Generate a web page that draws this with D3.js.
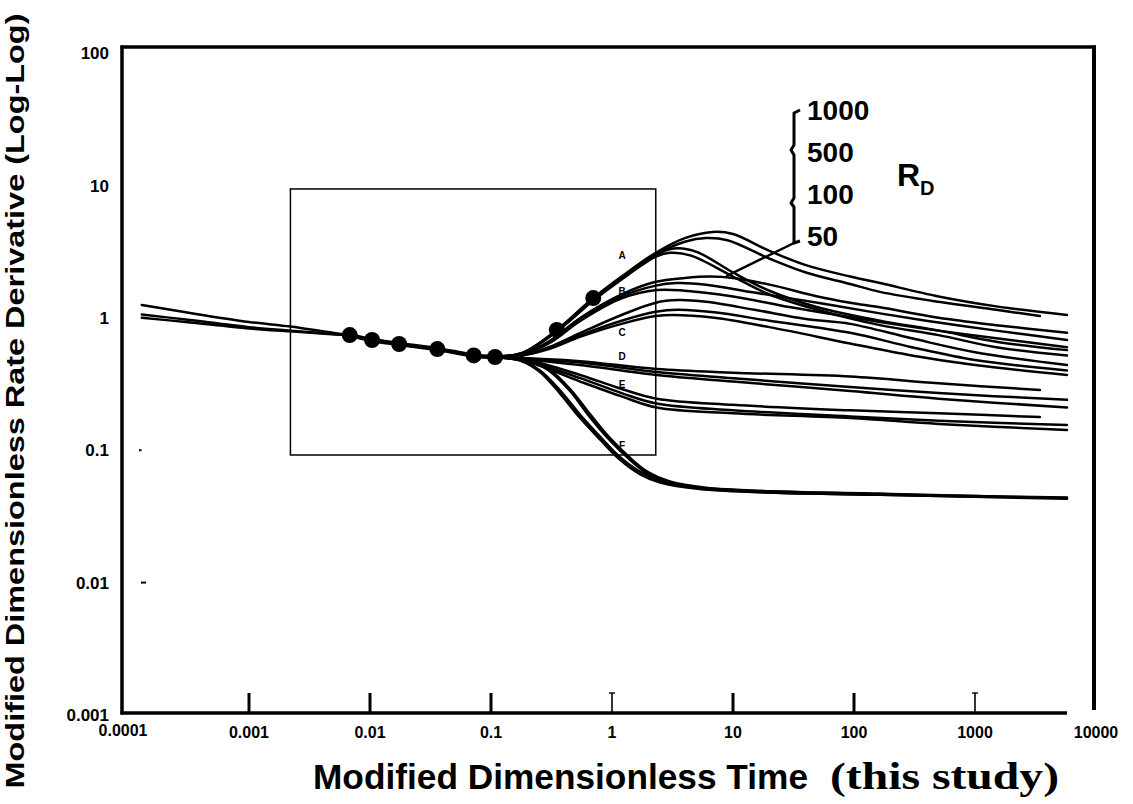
<!DOCTYPE html>
<html>
<head>
<meta charset="utf-8">
<script src="https://cdn.jsdelivr.net/npm/d3@7"></script>
<style>
  body { margin: 0; background: #fff; }
  svg text { font-family: "Liberation Sans", Arial, sans-serif; font-weight: bold; fill: #000; }
</style>
</head>
<body>
<div id="chart"></div>
<script>
const WIDTH = 1133, HEIGHT = 804;
const INK = "#000";

// axis ticks
const xTicks = [0.0001, 0.001, 0.01, 0.1, 1, 10, 100, 1000, 10000];
const xTickLabels = ["0.0001", "0.001", "0.01", "0.1", "1", "10", "100", "1000", "10000"];
const yTicks = [100, 10, 1, 0.1, 0.01, 0.001];
const yTickLabels = ["100", "10", "1", "0.1", "0.01", "0.001"];

// early stem: three traces that merge into the dotted core
const stemLines = [
    [[0.00013, 1.25], [0.0003, 1.1], [0.001, 0.93], [0.0022, 0.86], [0.0045, 0.78], [0.0068, 0.74]],
    [[0.00013, 1.06], [0.0003, 0.97], [0.001, 0.85], [0.0022, 0.8], [0.0045, 0.76], [0.0068, 0.74]],
    [[0.00013, 1.0], [0.0003, 0.93], [0.001, 0.83], [0.0022, 0.79], [0.0045, 0.755], [0.0068, 0.74]]
];
const stemCore = [[0.0068, 0.74], [0.0104, 0.68], [0.0174, 0.634], [0.036, 0.58], [0.072, 0.52], [0.108, 0.506], [0.13, 0.505]];

// dots (matching points)
const dotT = [0.0068, 0.0104, 0.0174, 0.036, 0.072, 0.108, 0.35, 0.70];
const dotV = [0.74, 0.68, 0.634, 0.58, 0.52, 0.506, 0.81, 1.41];

// type-curve families
const familyA = [
    [[0.11, 0.51], [0.18, 0.54], [0.35, 0.81], [0.7, 1.41], [1.2, 2.05], [2.3, 3.1], [4, 4.0], [6.8, 4.45], [10, 4.3], [20, 3.2], [40, 2.5], [93, 2.05], [164, 1.83], [500, 1.45], [1500, 1.22], [5760, 1.05]],
    [[0.11, 0.51], [0.18, 0.54], [0.35, 0.8], [0.7, 1.39], [1.2, 2.0], [2.3, 3.0], [4, 3.75], [6, 4.0], [9, 3.85], [20, 2.8], [40, 2.2], [93, 1.8], [164, 1.57], [500, 1.32], [1500, 1.15], [3440, 1.03]],
    [[0.11, 0.51], [0.18, 0.54], [0.35, 0.79], [0.7, 1.37], [1.2, 2.0], [2.3, 3.0], [3.4, 3.35], [5, 3.15], [10, 2.2], [20, 1.6], [50, 1.2], [164, 0.95], [500, 0.8], [1500, 0.66], [5760, 0.57]],
    [[0.11, 0.51], [0.18, 0.54], [0.35, 0.79], [0.7, 1.35], [1.2, 1.95], [2.3, 2.9], [3, 3.1], [4.5, 2.95], [10, 2.05], [20, 1.5], [50, 1.15], [164, 0.88], [500, 0.74], [1500, 0.6], [5760, 0.52]]
];
const familyB = [
    [[0.11, 0.51], [0.18, 0.53], [0.3, 0.66], [0.55, 1.0], [1.2, 1.5], [2.3, 1.87], [4, 2.0], [6.5, 2.05], [10, 2.0], [20, 1.78], [50, 1.45], [93, 1.3], [164, 1.2], [500, 1.0], [1500, 0.88], [5760, 0.77]],
    [[0.11, 0.51], [0.18, 0.53], [0.3, 0.65], [0.55, 0.98], [1.2, 1.45], [2.3, 1.75], [3.4, 1.83], [6, 1.78], [15, 1.55], [50, 1.3], [164, 1.08], [500, 0.92], [1500, 0.8], [5760, 0.68]],
    [[0.11, 0.51], [0.18, 0.53], [0.3, 0.64], [0.55, 0.95], [1.2, 1.4], [2.35, 1.62], [4, 1.6], [10, 1.45], [30, 1.2], [164, 0.93], [500, 0.8], [1500, 0.7], [5760, 0.6]]
];
const familyC = [
    [[0.11, 0.51], [0.18, 0.52], [0.3, 0.6], [0.55, 0.77], [1.2, 1.05], [2.3, 1.3], [3.5, 1.36], [6, 1.32], [15, 1.15], [40, 0.98], [93, 0.9], [300, 0.7], [1000, 0.55], [5760, 0.44]],
    [[0.11, 0.51], [0.18, 0.52], [0.3, 0.59], [0.55, 0.74], [1.2, 0.95], [2.3, 1.11], [3.5, 1.15], [7, 1.1], [20, 0.95], [93, 0.77], [300, 0.6], [1000, 0.48], [5760, 0.4]],
    [[0.11, 0.51], [0.18, 0.52], [0.3, 0.58], [0.55, 0.72], [1.2, 0.9], [2.3, 1.03], [3.2, 1.05], [7, 1.0], [20, 0.85], [93, 0.64], [300, 0.52], [1000, 0.44], [5760, 0.37]]
];
const familyD = [
    [[0.11, 0.505], [0.2, 0.495], [0.545, 0.47], [2.34, 0.41], [10, 0.385], [93, 0.36], [500, 0.32], [3440, 0.285]],
    [[0.11, 0.505], [0.2, 0.49], [0.545, 0.46], [2.34, 0.39], [10, 0.35], [93, 0.30], [500, 0.27], [5760, 0.24]],
    [[0.11, 0.505], [0.2, 0.485], [0.545, 0.44], [2.34, 0.37], [10, 0.33], [93, 0.28], [500, 0.245], [5760, 0.21]]
];
const familyE = [
    [[0.11, 0.505], [0.2, 0.48], [0.545, 0.37], [1.2, 0.29], [2.34, 0.245], [10, 0.22], [93, 0.2], [500, 0.19], [3440, 0.178]],
    [[0.11, 0.505], [0.2, 0.47], [0.545, 0.35], [1.2, 0.27], [2.34, 0.225], [10, 0.2], [93, 0.18], [500, 0.167], [5760, 0.155]],
    [[0.11, 0.505], [0.2, 0.465], [0.545, 0.33], [1.2, 0.255], [2.34, 0.21], [10, 0.19], [93, 0.175], [500, 0.158], [5760, 0.142]]
];
const familyF = [
    [[0.11, 0.505], [0.18, 0.47], [0.254, 0.39], [0.37, 0.27], [0.545, 0.175], [0.8, 0.12], [1.16, 0.085], [1.7, 0.066], [2.5, 0.057], [5.3, 0.051], [20, 0.048], [164, 0.046], [1000, 0.0445], [5760, 0.0435]],
    [[0.11, 0.505], [0.18, 0.475], [0.254, 0.4], [0.37, 0.285], [0.545, 0.185], [0.8, 0.126], [1.16, 0.089], [1.7, 0.069], [2.5, 0.059], [5.3, 0.052], [20, 0.049], [164, 0.047], [1000, 0.045], [3440, 0.044]],
    [[0.11, 0.505], [0.2, 0.48], [0.3, 0.4], [0.45, 0.28], [0.65, 0.18], [0.95, 0.12], [1.4, 0.085], [2, 0.066], [3, 0.057], [6, 0.051], [20, 0.048], [164, 0.046], [1000, 0.0445], [5760, 0.043]],
    [[0.11, 0.505], [0.2, 0.485], [0.3, 0.41], [0.45, 0.29], [0.65, 0.19], [0.95, 0.125], [1.4, 0.088], [2, 0.068], [3, 0.058], [6, 0.052], [20, 0.049], [164, 0.0465], [1000, 0.045], [5760, 0.044]]
];

// family labels
const familyNames = ["A", "B", "C", "D", "E", "F"];
const familyLabelT = [1.21, 1.21, 1.21, 1.21, 1.21, 1.21];
const familyLabelV = [2.98, 1.59, 0.78, 0.514, 0.316, 0.109];

// R_D legend
const rdLabels = ["1000", "500", "100", "50"];
const rdPointT = 8.8, rdPointV = 2.06;   // where the leader meets curve B

// inner box (data coords)
const boxT = [0.0022, 2.3];
const boxV = [0.092, 9.4];

const svg = d3.select("#chart")
    .append("svg")
    .attr("width", WIDTH)
    .attr("height", HEIGHT);

svg.append("rect").attr("width", WIDTH).attr("height", HEIGHT).attr("fill", "white");

var xScale = d3.scaleLog().domain([0.0001, 10000]).range([128, 1096]);
var yScale = d3.scaleLog().domain([0.001, 100]).range([715, 53]);

var frameLeft = 122, frameTop = 47, frameRight = 1094, frameBottom = 713;

// frame
svg.append("line").attr("x1", frameLeft).attr("y1", frameTop - 1.5).attr("x2", frameLeft).attr("y2", frameBottom + 1.5)
    .attr("stroke", INK).attr("stroke-width", 3.5);
svg.append("line").attr("x1", frameLeft - 1.5).attr("y1", frameTop).attr("x2", frameRight + 2).attr("y2", frameTop)
    .attr("stroke", INK).attr("stroke-width", 3.5);
svg.append("line").attr("x1", frameRight).attr("y1", frameTop - 1.5).attr("x2", frameRight).attr("y2", 710)
    .attr("stroke", INK).attr("stroke-width", 4);
svg.append("line").attr("x1", frameLeft - 1.5).attr("y1", frameBottom).attr("x2", xScale(5760)).attr("y2", frameBottom)
    .attr("stroke", INK).attr("stroke-width", 3.5);

// x ticks pointing up from the bottom line
const thinTicks = [1, 1000];
svg.selectAll(".xtick")
    .data(xTicks.slice(1, 8))
    .enter()
    .append("line")
    .attr("class", "xtick")
    .attr("x1", d => xScale(d))
    .attr("x2", d => xScale(d))
    .attr("y1", frameBottom - 20)
    .attr("y2", frameBottom)
    .attr("stroke", INK)
    .attr("stroke-width", d => thinTicks.includes(d) ? 1.6 : 3);
// serifs on the thin ticks
svg.selectAll(".xserif")
    .data(thinTicks)
    .enter()
    .append("line")
    .attr("x1", d => xScale(d) - 3)
    .attr("x2", d => xScale(d) + 3)
    .attr("y1", frameBottom - 20)
    .attr("y2", frameBottom - 20)
    .attr("stroke", INK)
    .attr("stroke-width", 1.4);

svg.selectAll(".xlabel")
    .data(xTicks)
    .enter()
    .append("text")
    .attr("x", (d, i) => i === 0 ? 123 : xScale(d))
    .attr("y", (d, i) => i === 0 ? 736 : 738)
    .attr("text-anchor", "middle")
    .attr("font-size", 16)
    .text((d, i) => xTickLabels[i]);

// y labels
svg.selectAll(".ylabel")
    .data(yTicks)
    .enter()
    .append("text")
    .attr("x", 109)
    .attr("y", d => yScale(d))
    .attr("dy", "0.36em")
    .attr("text-anchor", "end")
    .attr("font-size", 17)
    .text((d, i) => yTickLabels[i]);

// faint inner marks at 0.1 and 0.01
svg.append("line").attr("x1", 139).attr("x2", 141.5).attr("y1", yScale(0.1)).attr("y2", yScale(0.1))
    .attr("stroke", INK).attr("stroke-width", 2);
svg.append("line").attr("x1", 141).attr("x2", 146).attr("y1", yScale(0.01)).attr("y2", yScale(0.01))
    .attr("stroke", INK).attr("stroke-width", 2);

// inner box
svg.append("rect")
    .attr("x", xScale(boxT[0]))
    .attr("y", yScale(boxV[1]))
    .attr("width", xScale(boxT[1]) - xScale(boxT[0]))
    .attr("height", yScale(boxV[0]) - yScale(boxV[1]))
    .attr("fill", "none")
    .attr("stroke", INK)
    .attr("stroke-width", 1.5);

var line = d3.line()
    .x(d => xScale(d[0]))
    .y(d => yScale(d[1]))
    .curve(d3.curveCatmullRom.alpha(0.5));

const allCurves = [].concat(stemLines, familyA, familyB, familyC, familyD, familyE, familyF);
svg.selectAll(".curve")
    .data(allCurves)
    .enter()
    .append("path")
    .attr("class", "curve")
    .attr("d", line)
    .attr("fill", "none")
    .attr("stroke", INK)
    .attr("stroke-width", 2.5)
    .attr("stroke-linecap", "round");

svg.append("path")
    .attr("d", line(stemCore))
    .attr("fill", "none")
    .attr("stroke", INK)
    .attr("stroke-width", 4.5);

svg.selectAll(".dot")
    .data(dotT)
    .enter()
    .append("circle")
    .attr("cx", d => xScale(d))
    .attr("cy", (d, i) => yScale(dotV[i]))
    .attr("r", 8)
    .attr("fill", INK);

// family letters
svg.selectAll(".fam")
    .data(familyNames)
    .enter()
    .append("text")
    .attr("x", (d, i) => xScale(familyLabelT[i]))
    .attr("y", (d, i) => yScale(familyLabelV[i]))
    .attr("dy", "0.36em")
    .attr("text-anchor", "middle")
    .attr("font-size", 10)
    .text(d => d);

// R_D legend bracket and leader
var legX = 794, legTop = 113, legBottom = 243;
svg.append("path")
    .attr("d", `M${legX + 6},${legTop - 3} L${legX},${legTop} L${legX},${legTop + 32} L${legX - 3},${legTop + 37} L${legX},${legTop + 42}`
        + ` L${legX},${legTop + 85} L${legX - 3},${legTop + 90} L${legX},${legTop + 94} L${legX},${legBottom} L${legX + 6},${legBottom - 2}`)
    .attr("fill", "none")
    .attr("stroke", INK)
    .attr("stroke-width", 3)
    .attr("stroke-linejoin", "round");
svg.append("line")
    .attr("x1", legX)
    .attr("y1", legBottom)
    .attr("x2", xScale(rdPointT))
    .attr("y2", yScale(rdPointV))
    .attr("stroke", INK)
    .attr("stroke-width", 2.5);

svg.selectAll(".rd")
    .data(rdLabels)
    .enter()
    .append("text")
    .attr("x", 807)
    .attr("y", (d, i) => 120 + i * 42)
    .attr("font-size", 28)
    .text(d => d);

var rd = svg.append("text").attr("x", 897).attr("y", 186).attr("font-size", 32);
rd.append("tspan").text("R");
rd.append("tspan").attr("font-size", 20).attr("dy", 9).text("D");

// axis titles
svg.append("text")
    .attr("transform", "translate(24,401) rotate(-90)")
    .attr("text-anchor", "middle")
    .attr("font-size", 26)
    .attr("textLength", 775)
    .attr("lengthAdjust", "spacingAndGlyphs")
    .text("Modified Dimensionless Rate Derivative (Log-Log)");

svg.append("text")
    .attr("x", 313)
    .attr("y", 789)
    .attr("font-size", 35)
    .attr("textLength", 495)
    .attr("lengthAdjust", "spacingAndGlyphs")
    .text("Modified Dimensionless Time");
svg.append("text")
    .attr("x", 830)
    .attr("y", 789)
    .attr("font-size", 38)
    .style("font-family", "'Liberation Serif', 'Times New Roman', serif")
    .attr("textLength", 229)
    .attr("lengthAdjust", "spacingAndGlyphs")
    .text("(this study)");
</script>
</body>
</html>
